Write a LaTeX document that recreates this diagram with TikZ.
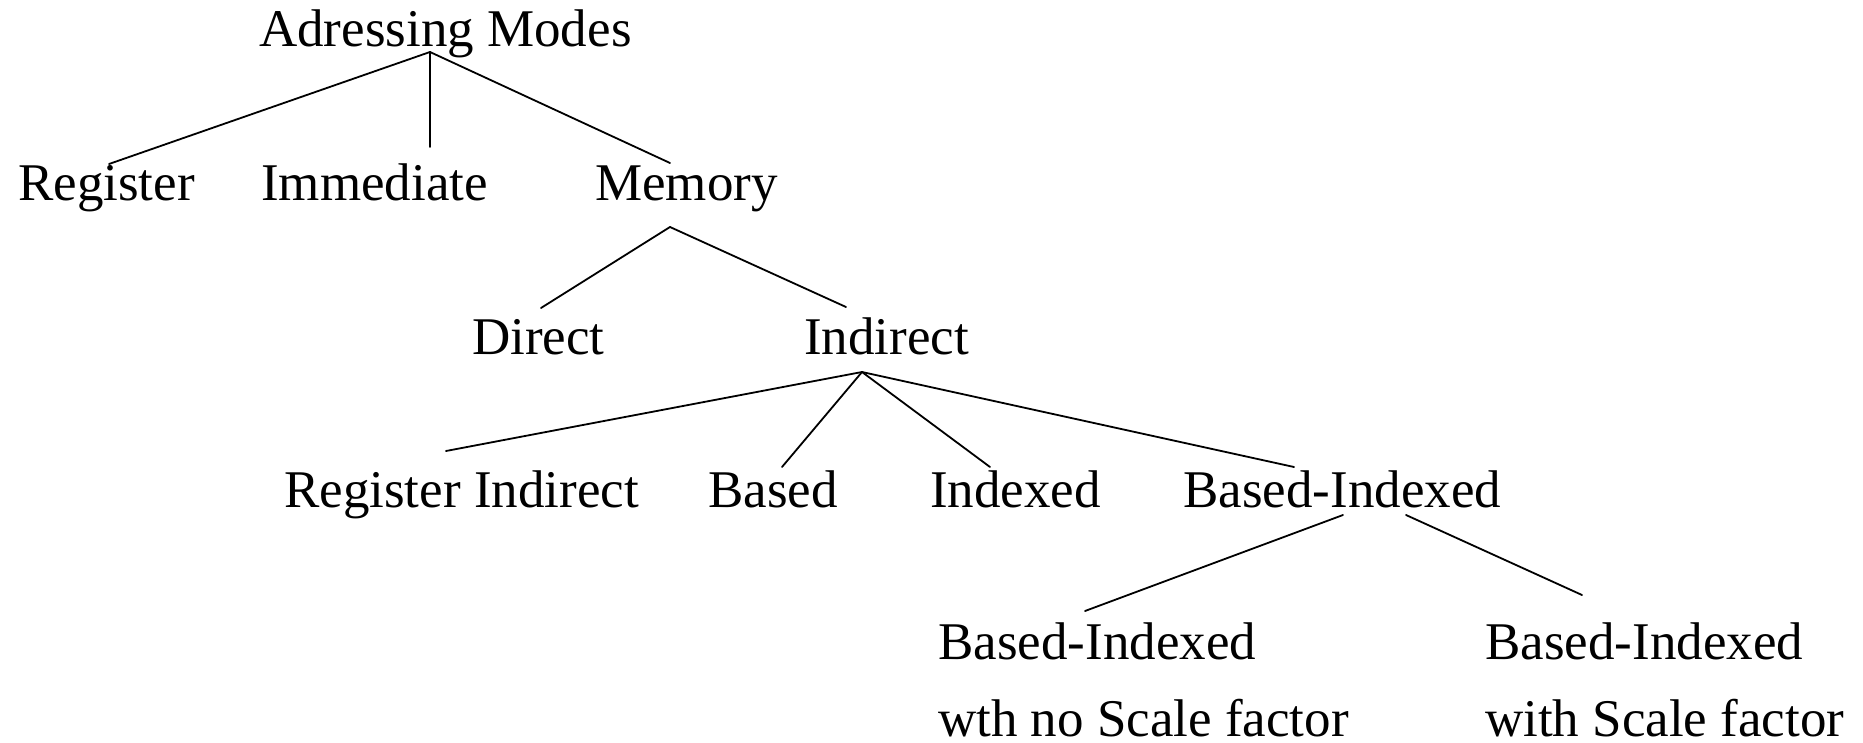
\documentclass[tikz,border=0pt]{standalone}
\usepackage{fontspec}
\setmainfont{Liberation Serif}
\begin{document}
\begin{tikzpicture}[x=1pt,y=-1pt,
  lbl/.style={anchor=base west,inner sep=0pt,font=\fontsize{53}{77}\selectfont,align=left},
  edge/.style={line width=1.8pt,line cap=round}]
\useasboundingbox (0,0) rectangle (1863,743);
% labels (two-line labels are placed by the baseline of their last line)
\node[lbl] (root) at (259,47) {Adressing Modes};
\node[lbl] (reg)  at (18,201) {Register};
\node[lbl] (imm)  at (261,201) {Immediate};
\node[lbl] (mem)  at (595,201) {Memory};
\node[lbl] (dir)  at (472,354) {Direct};
\node[lbl] (ind)  at (804,354) {Indirect};
\node[lbl] (rind) at (284,507) {Register Indirect};
\node[lbl] (bas)  at (708,507) {Based};
\node[lbl] (idx)  at (930,507) {Indexed};
\node[lbl] (bidx) at (1183,507) {Based-Indexed};
\node[lbl,text depth=0pt] (bnos) at (938,736) {Based-Indexed\\wth no Scale factor};
\node[lbl,text depth=0pt] (bsc)  at (1485,736) {Based-Indexed\\with Scale factor};
% branch points and line ends
\coordinate (root-j) at (430,52);
\coordinate (reg-t)  at (109,164);
\coordinate (imm-t)  at (430,147);
\coordinate (mem-t)  at (670,163);
\coordinate (mem-j)  at (670,227);
\coordinate (dir-t)  at (541,308);
\coordinate (ind-t)  at (846,307);
\coordinate (ind-j)  at (862,372);
\coordinate (rind-t) at (446,451);
\coordinate (bas-t)  at (782,467);
\coordinate (idx-t)  at (990,467);
\coordinate (bidx-t) at (1294,467);
\coordinate (bidx-jl) at (1343,515);
\coordinate (bidx-jr) at (1406,515);
\coordinate (bnos-t) at (1085,611);
\coordinate (bsc-t)  at (1582,595);
% connectors
\draw[edge] (root-j) -- (reg-t);
\draw[edge] (root-j) -- (imm-t);
\draw[edge] (root-j) -- (mem-t);
\draw[edge] (mem-j) -- (dir-t);
\draw[edge] (mem-j) -- (ind-t);
\draw[edge] (ind-j) -- (rind-t);
\draw[edge] (ind-j) -- (bas-t);
\draw[edge] (ind-j) -- (idx-t);
\draw[edge] (ind-j) -- (bidx-t);
\draw[edge] (bidx-jl) -- (bnos-t);
\draw[edge] (bidx-jr) -- (bsc-t);
\end{tikzpicture}
\end{document}
